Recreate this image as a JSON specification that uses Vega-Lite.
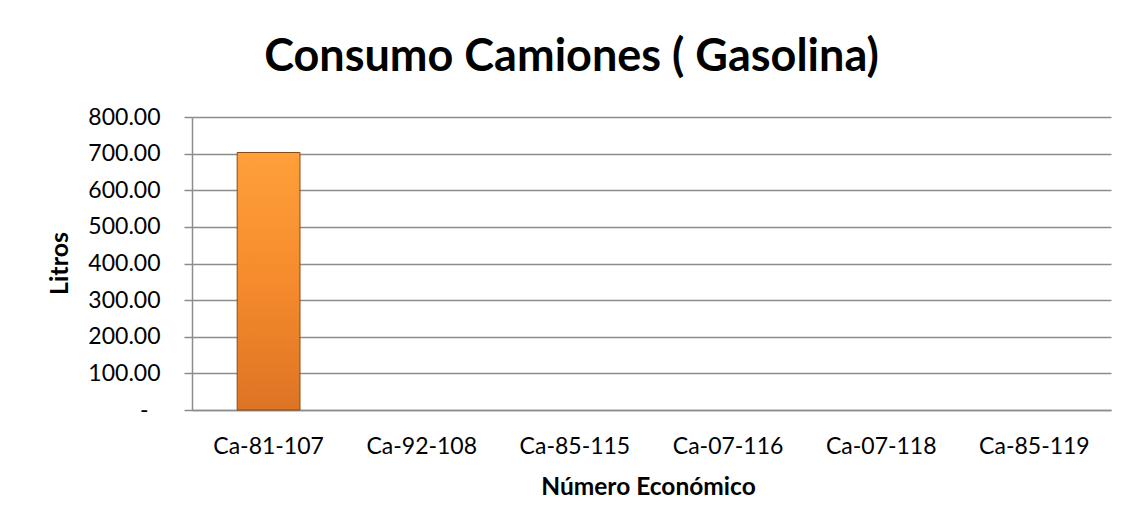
{
  "$schema": "https://vega.github.io/schema/vega-lite/v6.json",
  "autosize": "none",
  "width": 919,
  "height": 293,
  "padding": {"left": 192, "top": 117, "right": 22, "bottom": 121},
  "background": "white",
  "title": {
    "text": "Consumo Camiones ( Gasolina)",
    "font": "Lato",
    "fontSize": 45,
    "fontWeight": "bold",
    "color": "black",
    "anchor": "middle",
    "frame": "group",
    "dx": -80,
    "offset": 26
  },
  "data": {
    "values": [
      {"unidad": "Ca-81-107", "litros": 703},
      {"unidad": "Ca-92-108", "litros": 0},
      {"unidad": "Ca-85-115", "litros": 0},
      {"unidad": "Ca-07-116", "litros": 0},
      {"unidad": "Ca-07-118", "litros": 0},
      {"unidad": "Ca-85-119", "litros": 0}
    ]
  },
  "mark": {
    "type": "bar",
    "color": {
      "gradient": "linear",
      "x1": 0, "y1": 0, "x2": 0, "y2": 1,
      "stops": [
        {"offset": 0, "color": "#FFA03A"},
        {"offset": 0.5, "color": "#F58B2C"},
        {"offset": 1, "color": "#DD7424"}
      ]
    },
    "stroke": "#8A4A14"
  },
  "encoding": {
    "x": {
      "field": "unidad",
      "type": "nominal",
      "sort": null,
      "scale": {"paddingInner": 0.59, "paddingOuter": 0.295},
      "axis": {
        "title": "Número Económico",
        "labelAngle": 0,
        "ticks": false,
        "tickSize": 0,
        "labelBaseline": "alphabetic",
        "labelPadding": 43,
        "titleBaseline": "alphabetic",
        "titleX": 456,
        "titleY": 84,
        "titleAnchor": "middle",
        "titleFontSize": 24.5
      }
    },
    "y": {
      "field": "litros",
      "type": "quantitative",
      "scale": {"domain": [0, 800], "nice": false},
      "axis": {
        "title": "Litros",
        "values": [0, 100, 200, 300, 400, 500, 600, 700, 800],
        "labelExpr": "datum.value == 0 ? '-' : format(datum.value, '.2f')",
        "tickSize": 8,
        "labelPadding": {"condition": {"test": "datum.value == 0", "value": 36}, "value": 24},
        "titleAngle": -90,
        "titleBaseline": "alphabetic",
        "titleAlign": "center",
        "titleX": -125,
        "titleY": 146,
        "titleFontSize": 25
      }
    },
    "strokeWidth": {
      "condition": {"test": "datum.litros > 0", "value": 1},
      "value": 0
    }
  },
  "config": {
    "view": {"stroke": null},
    "axis": {
      "labelFont": "Lato",
      "labelFontSize": 23,
      "labelColor": "black",
      "titleFont": "Lato",
      "titleFontSize": 23,
      "titleFontWeight": "bold",
      "titleColor": "black",
      "domainColor": "#8c8c8c",
      "domainWidth": 1.5,
      "tickColor": "#8c8c8c",
      "tickWidth": 1.5,
      "gridColor": "#8c8c8c",
      "gridWidth": 1.5,
      "gridOpacity": 1
    },
    "axisX": {"grid": false},
    "axisY": {"grid": true}
  }
}
